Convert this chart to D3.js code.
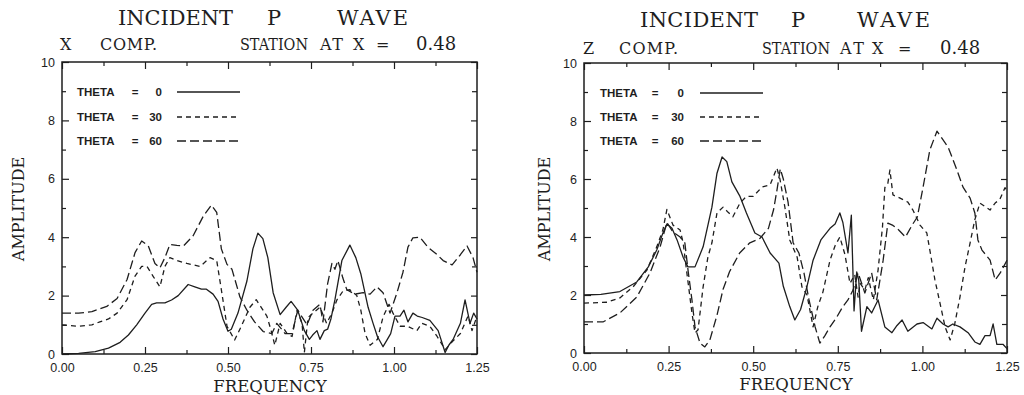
<!DOCTYPE html>
<html>
<head>
<meta charset="utf-8">
<script src="https://cdn.jsdelivr.net/npm/d3@7/dist/d3.min.js"></script>
<style>
  body { margin: 0; background: #fff; }
  svg { display: block; }
</style>
</head>
<body>
<svg id="chart" width="1024" height="395"></svg>
<script>
// ---- data: [frequency, amplitude] ----
const thetaLabels = ["0", "30", "60"];
const xTickValues = [0, 0.25, 0.5, 0.75, 1.0, 1.25];
const xMinorTicks = [0.125, 0.375, 0.625, 0.875, 1.125];
const yTickValues = [0, 2, 4, 6, 8, 10];
const yMinorTicks = [1, 3, 5, 7, 9];

// X component
const xTheta0 = [[0,0],[0.05,0.02],[0.1,0.08],[0.14,0.2],[0.175,0.4],[0.2,0.65],[0.225,1.0],[0.25,1.4],[0.27,1.7],[0.285,1.75],[0.31,1.75],[0.33,1.85],[0.35,2.0],[0.38,2.38],[0.4,2.3],[0.42,2.22],[0.435,2.22],[0.455,2.05],[0.47,1.8],[0.485,1.2],[0.5,0.78],[0.51,0.85],[0.53,1.4],[0.557,2.5],[0.575,3.6],[0.59,4.14],[0.605,3.95],[0.62,3.3],[0.636,2.1],[0.657,1.35],[0.675,1.6],[0.69,1.8],[0.71,1.5],[0.73,0.8],[0.745,0.5],[0.755,0.65],[0.768,0.8],[0.777,0.5],[0.79,0.8],[0.8,0.85],[0.81,1.2],[0.822,1.85],[0.843,3.2],[0.867,3.73],[0.885,3.3],[0.9,2.75],[0.922,1.6],[0.937,1.05],[0.95,0.6],[0.967,0.25],[0.98,0.5],[0.99,0.7],[1.003,1.3],[1.018,1.3],[1.03,1.5],[1.042,1.1],[1.057,1.4],[1.07,1.3],[1.085,1.25],[1.108,1.15],[1.133,0.8],[1.154,0.05],[1.165,0.3],[1.178,0.5],[1.2,1.05],[1.214,1.85],[1.229,1.05],[1.24,1.4],[1.25,1.2]];
const xTheta30 = [[0,1.0],[0.05,0.95],[0.09,1.0],[0.114,1.1],[0.14,1.2],[0.166,1.4],[0.196,1.86],[0.22,2.67],[0.24,3.0],[0.256,3.0],[0.274,2.67],[0.295,2.3],[0.31,3.0],[0.325,3.3],[0.346,3.2],[0.376,3.1],[0.416,3.0],[0.446,3.3],[0.466,3.2],[0.48,2.2],[0.497,0.95],[0.52,0.48],[0.54,0.95],[0.566,1.6],[0.585,1.86],[0.6,1.6],[0.617,1.3],[0.63,0.8],[0.641,0.3],[0.657,1.05],[0.678,0.7],[0.693,0.6],[0.708,1.5],[0.723,1.05],[0.73,0.05],[0.741,1.25],[0.756,1.4],[0.777,1.6],[0.797,1.05],[0.813,1.4],[0.828,1.85],[0.846,2.15],[0.867,2.2],[0.888,2.0],[0.9,1.5],[0.913,0.7],[0.928,0.3],[0.95,0.5],[0.967,1.27],[0.985,1.7],[0.997,1.4],[1.018,0.95],[1.04,0.95],[1.069,0.8],[1.084,1.05],[1.108,0.95],[1.13,0.6],[1.154,0.15],[1.178,0.45],[1.2,0.7],[1.223,1.3],[1.235,0.8],[1.25,1.3]];
const xTheta60 = [[0,1.4],[0.05,1.4],[0.09,1.45],[0.135,1.63],[0.166,1.9],[0.196,2.55],[0.22,3.47],[0.24,3.87],[0.26,3.7],[0.28,3.1],[0.295,2.95],[0.31,3.3],[0.325,3.75],[0.346,3.72],[0.366,3.7],[0.395,4.05],[0.426,4.73],[0.45,5.1],[0.466,4.85],[0.48,3.6],[0.497,3.07],[0.512,2.9],[0.536,1.95],[0.557,1.5],[0.58,1.1],[0.606,0.77],[0.632,0.7],[0.647,1.05],[0.672,0.7],[0.693,0.7],[0.71,1.5],[0.738,1.0],[0.756,1.5],[0.777,1.7],[0.786,1.1],[0.8,2.4],[0.813,3.1],[0.822,2.9],[0.831,3.2],[0.846,2.6],[0.858,2.2],[0.882,2.05],[0.907,2.1],[0.928,2.05],[0.949,2.3],[0.967,2.1],[0.988,1.4],[1.009,2.1],[1.027,2.8],[1.042,3.66],[1.057,3.98],[1.078,4.0],[1.102,3.66],[1.13,3.4],[1.148,3.2],[1.175,3.05],[1.2,3.4],[1.22,3.7],[1.238,3.3],[1.25,2.8]];

// Z component
const zTheta0 = [[0,2.0],[0.05,2.02],[0.106,2.12],[0.156,2.45],[0.19,2.97],[0.215,3.55],[0.232,4.1],[0.245,4.45],[0.26,4.3],[0.275,3.9],[0.293,3.3],[0.307,2.97],[0.328,2.97],[0.352,3.66],[0.378,5.03],[0.393,6.2],[0.408,6.76],[0.422,6.6],[0.437,5.9],[0.461,5.4],[0.48,4.83],[0.505,4.14],[0.526,4.0],[0.55,3.45],[0.576,3.1],[0.589,2.3],[0.608,1.6],[0.623,1.14],[0.64,1.5],[0.659,2.3],[0.677,3.2],[0.7,3.9],[0.727,4.3],[0.742,4.45],[0.756,4.83],[0.765,4.5],[0.78,3.45],[0.79,4.75],[0.798,1.45],[0.806,2.8],[0.812,2.5],[0.82,0.75],[0.836,1.6],[0.85,1.38],[0.869,1.83],[0.889,0.9],[0.91,0.7],[0.925,0.95],[0.94,1.14],[0.957,0.75],[0.984,1.0],[1.002,1.05],[1.028,0.83],[1.043,1.2],[1.061,1.0],[1.076,0.9],[1.09,1.0],[1.111,0.9],[1.135,0.7],[1.155,0.38],[1.17,0.3],[1.185,0.6],[1.2,0.6],[1.209,1.0],[1.22,0.3],[1.238,0.3],[1.25,0.15]];
const zTheta30 = [[0,1.72],[0.068,1.75],[0.106,1.9],[0.145,2.28],[0.186,2.86],[0.215,3.66],[0.233,4.24],[0.245,4.95],[0.263,4.41],[0.284,4.24],[0.293,3.8],[0.304,2.76],[0.319,1.38],[0.328,0.69],[0.337,0.8],[0.352,2.28],[0.366,3.3],[0.378,3.8],[0.393,4.83],[0.411,5.03],[0.426,4.85],[0.44,4.7],[0.461,5.17],[0.48,5.4],[0.5,5.4],[0.526,5.72],[0.55,5.8],[0.57,6.38],[0.579,6.0],[0.594,5.0],[0.608,3.9],[0.63,3.3],[0.644,2.28],[0.659,2.0],[0.677,0.9],[0.691,1.6],[0.706,2.1],[0.727,3.2],[0.742,3.7],[0.756,4.0],[0.771,3.4],[0.786,2.4],[0.8,2.7],[0.81,1.93],[0.816,2.4],[0.83,2.17],[0.84,2.6],[0.855,1.83],[0.869,2.86],[0.882,4.34],[0.889,5.7],[0.898,5.86],[0.904,6.31],[0.913,5.45],[0.934,5.34],[0.957,5.2],[0.972,4.93],[0.993,4.41],[1.013,4.14],[1.022,3.55],[1.037,2.52],[1.052,1.72],[1.067,0.9],[1.082,0.45],[1.096,1.03],[1.111,1.93],[1.126,2.97],[1.141,3.8],[1.155,4.6],[1.17,5.17],[1.185,5.05],[1.2,4.93],[1.215,5.17],[1.229,5.3],[1.244,5.7],[1.25,5.6]];
const zTheta60 = [[0,1.07],[0.056,1.07],[0.106,1.38],[0.156,1.93],[0.195,2.76],[0.225,3.66],[0.245,4.5],[0.263,4.17],[0.284,4.0],[0.298,3.8],[0.308,2.8],[0.319,1.83],[0.328,0.9],[0.343,0.34],[0.357,0.21],[0.372,0.45],[0.393,1.3],[0.411,2.2],[0.43,2.8],[0.46,3.45],[0.49,3.8],[0.52,3.95],[0.545,4.3],[0.56,4.93],[0.57,5.6],[0.58,6.35],[0.589,6.0],[0.603,5.2],[0.618,3.8],[0.635,3.45],[0.65,2.76],[0.665,1.83],[0.683,0.9],[0.697,0.34],[0.712,0.6],[0.727,0.9],[0.747,1.24],[0.765,1.6],[0.78,1.83],[0.795,2.17],[0.81,2.76],[0.83,2.07],[0.85,2.76],[0.865,1.83],[0.884,3.2],[0.898,4.48],[0.913,4.4],[0.93,4.24],[0.95,4.0],[0.969,4.4],[0.985,4.69],[1.002,5.72],[1.022,7.0],[1.043,7.65],[1.058,7.4],[1.076,7.1],[1.102,6.31],[1.12,5.72],[1.141,5.34],[1.155,4.83],[1.164,3.9],[1.176,3.55],[1.2,3.2],[1.215,2.52],[1.23,2.76],[1.25,3.2]];

// ---- layout ----
const ink = "#1e1e1e";
const dashes = [null, "5,4", "9,4"];
const serif = "'DejaVu Serif', 'Liberation Serif', serif";
const sans = "'Liberation Sans', Arial, sans-serif";

// words: [text, x, width (0 = natural), font size override]
const panels = [
  {
    series: [xTheta0, xTheta30, xTheta60],
    left: 62, right: 477, top: 62, bottom: 354,
    titleY: 25, subY: 50,
    title: [["INCIDENT", 118, 115], ["P", 267, 0], ["WAVE", 337, 71]],
    sub: [["X", 60, 0], ["COMP.", 100, 57], ["STATION", 240, 68], ["AT", 320, 23], ["X", 353, 0], ["=", 376, 0], ["0.48", 416, 0, 18]],
    legendX: 77, legendEq: 135, legendNum: 162, legendLine: [177, 240], legendY: [92, 117, 141],
    ampX: 24, freqX: 270, freqY: 392
  },
  {
    series: [zTheta0, zTheta30, zTheta60],
    left: 584, right: 1007, top: 63, bottom: 353,
    titleY: 27, subY: 54,
    title: [["INCIDENT", 640, 118], ["P", 791, 0], ["WAVE", 857, 73]],
    sub: [["Z", 583, 0], ["COMP.", 619, 59], ["STATION", 762, 68], ["AT", 840, 24], ["X", 872, 0], ["=", 898, 0], ["0.48", 940, 0, 18]],
    legendX: 600, legendEq: 655, legendNum: 684, legendLine: [700, 763], legendY: [93, 117, 141],
    ampX: 550, freqX: 796, freqY: 390
  }
];

const svg = d3.select("#chart");

// place a word, fitting it to the measured width when one is given
const word = (g, [t, tx, w, fs], ty, size) => {
  const el = g.append("text").attr("x", tx).attr("y", ty)
    .attr("font-family", serif).attr("font-size", fs || size).attr("fill", ink).text(t);
  if (w) {
    const natural = el.node().getComputedTextLength();
    el.attr("textLength", w).attr("lengthAdjust", natural > w ? "spacingAndGlyphs" : "spacing");
  }
};

panels.forEach(p => {
  const g = svg.append("g");
  const x = d3.scaleLinear().domain([0, 1.25]).range([p.left, p.right]);
  const y = d3.scaleLinear().domain([0, 10]).range([p.bottom, p.top]);

  // titles
  p.title.forEach(w => word(g, w, p.titleY, 21));
  p.sub.forEach(w => word(g, w, p.subY, 16));

  // axes: major + minor ticks on all four sides, pointing inward
  const addAxis = (axis, transform, labels) => {
    const a = g.append("g").attr("transform", transform).call(axis);
    a.select(".domain").remove();
    a.selectAll("line").attr("stroke", ink).attr("stroke-width", 1.2);
    a.selectAll("text").attr("font-family", sans).attr("font-size", 12.5).attr("fill", ink);
    if (!labels) a.selectAll("text").remove();
    return a;
  };
  addAxis(d3.axisBottom(x).tickValues(xTickValues).tickFormat(d3.format(".2f")).tickSizeInner(-7).tickSizeOuter(0).tickPadding(9), `translate(0,${p.bottom})`, true);
  addAxis(d3.axisBottom(x).tickValues(xMinorTicks).tickSizeInner(-4).tickSizeOuter(0), `translate(0,${p.bottom})`, false);
  addAxis(d3.axisTop(x).tickValues(xTickValues).tickSizeInner(-7).tickSizeOuter(0), `translate(0,${p.top})`, false);
  addAxis(d3.axisTop(x).tickValues(xMinorTicks).tickSizeInner(-4).tickSizeOuter(0), `translate(0,${p.top})`, false);
  addAxis(d3.axisLeft(y).tickValues(yTickValues).tickSizeInner(-7).tickSizeOuter(0).tickPadding(7), `translate(${p.left},0)`, true);
  addAxis(d3.axisLeft(y).tickValues(yMinorTicks).tickSizeInner(-4).tickSizeOuter(0), `translate(${p.left},0)`, false);
  addAxis(d3.axisRight(y).tickValues(yTickValues).tickSizeInner(-6).tickSizeOuter(0), `translate(${p.right},0)`, false);
  addAxis(d3.axisRight(y).tickValues(yMinorTicks).tickSizeInner(-5).tickSizeOuter(0), `translate(${p.right},0)`, false);

  // frame
  g.append("rect").attr("x", p.left).attr("y", p.top)
    .attr("width", p.right - p.left).attr("height", p.bottom - p.top)
    .attr("fill", "none").attr("stroke", ink).attr("stroke-width", 1.5);

  // axis titles
  g.append("text").attr("transform", `translate(${p.ampX},${(p.top + p.bottom) / 2 + 1}) rotate(-90)`)
    .attr("text-anchor", "middle").attr("font-family", serif).attr("font-size", 16)
    .attr("fill", ink).text("AMPLITUDE");
  g.append("text").attr("x", p.freqX).attr("y", p.freqY).attr("text-anchor", "middle")
    .attr("font-family", serif).attr("font-size", 16.5).attr("fill", ink).text("FREQUENCY");

  // curves
  const line = d3.line().x(d => x(d[0])).y(d => y(d[1]));
  p.series.forEach((s, i) => {
    g.append("path").datum(s).attr("d", line)
      .attr("fill", "none").attr("stroke", ink).attr("stroke-width", 1.3)
      .attr("stroke-linejoin", "round")
      .attr("stroke-dasharray", dashes[i]);
  });

  // legend
  thetaLabels.forEach((lab, i) => {
    const ly = p.legendY[i];
    const t = g.append("g").attr("font-family", sans).attr("font-size", 11.5)
      .attr("font-weight", "bold").attr("fill", ink);
    t.append("text").attr("x", p.legendX).attr("y", ly + 4).text("THETA");
    t.append("text").attr("x", p.legendEq).attr("y", ly + 4).attr("text-anchor", "middle").text("=");
    t.append("text").attr("x", p.legendNum).attr("y", ly + 4).attr("text-anchor", "end").text(lab);
    g.append("line").attr("x1", p.legendLine[0]).attr("x2", p.legendLine[1])
      .attr("y1", ly).attr("y2", ly)
      .attr("stroke", ink).attr("stroke-width", 1.3)
      .attr("stroke-dasharray", dashes[i]);
  });
});
</script>
</body>
</html>
